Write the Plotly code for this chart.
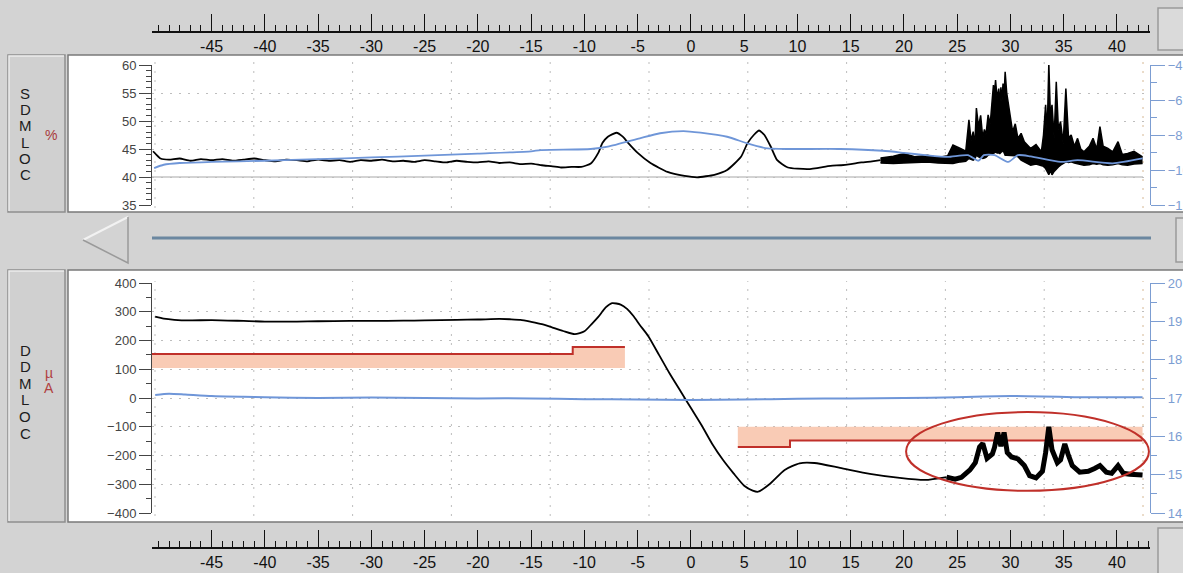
import plotly.graph_objects as go

W, H = 1183, 573

# ---------------- data ----------------
x_range = [-50.6, 43.1]
ruler_ticks = list(range(-45, 41, 5))

# SDMLOC (%), black trace
sd_x = [-50.5, -50.2, -49.8, -49, -48, -47, -46, -45, -44, -43, -42, -41, -40, -39, -38, -37, -36, -35,
        -34, -33, -32, -31, -30, -29, -28, -27, -26, -25, -24, -23, -22, -21, -20, -19, -18, -17, -16,
        -15, -14, -13, -12.2, -11.2, -10.3, -9.4, -8.7, -8.3, -7.8, -7.0, -6.4, -5.9, -5.0, -3.8, -2.2,
        -0.6, 0.6, 2.2, 3.4, 4.7, 5.3, 5.9, 6.4, 6.9, 7.5, 8.1, 9.1, 11.0, 13.1, 14.1, 15, 16, 17, 17.8]
sd_pct = [44.6, 44.0, 43.3, 43.1, 43.3, 42.9, 43.2, 43.0, 43.2, 42.9, 43.1, 43.3, 43.0, 42.8, 43.1, 43.0,
          42.8, 43.1, 42.9, 43.0, 42.7, 43.0, 42.9, 43.1, 42.8, 42.9, 42.7, 43.0, 42.8, 42.6, 42.9, 42.7,
          42.6, 42.8, 42.5, 42.6, 42.3, 42.4, 42.1, 41.9, 41.7, 41.8, 41.8, 42.4, 44.3, 46.1, 47.2, 47.9,
          47.2, 46.1, 44.3, 42.5, 40.9, 40.2, 39.95, 40.4, 41.25, 43.6, 46.0, 47.5, 48.3, 47.5, 45.4, 43.0,
          41.7, 41.4, 42.0, 42.1, 42.3, 42.6, 42.8, 43.0]
# SDMLOC noisy section: upper / lower envelope
sdn_x = [17.8, 19.0, 20.0, 21.0, 22.2, 23.2, 24.1, 24.6, 25.3, 25.8, 26.1, 26.3, 26.5, 26.65, 26.8, 27.0,
         27.2, 27.4, 27.55, 27.7, 27.9, 28.1, 28.25, 28.4, 28.5, 28.6, 28.75, 28.9, 29.0, 29.1, 29.2, 29.3,
         29.4, 29.5, 29.65, 29.8, 30.0, 30.2, 30.45, 30.7, 31.0, 31.3, 31.9, 32.4, 32.9, 33.1, 33.3, 33.45,
         33.6, 33.75, 33.9, 34.1, 34.3, 34.5, 34.7, 34.95, 35.2, 35.45, 35.7, 36.0, 36.3, 36.6, 36.9, 37.4,
         37.75, 38.1, 38.4, 38.7, 39.15, 39.6, 40.1, 40.5, 41.0, 41.6, 42.4]
sdn_hi = [43.4, 43.7, 44.2, 43.6, 43.9, 43.5, 43.8, 45.7, 45.1, 44.6, 50.2, 46.5, 48.1, 45.5, 52.3, 49.0,
          51.0, 46.9, 48.5, 47.5, 51.1, 49.5, 53.0, 56.4, 55.0, 57.3, 54.0, 55.8, 53.0, 56.0, 53.5, 56.7,
          54.5, 58.8, 55.0, 52.9, 50.0, 48.1, 49.5, 46.9, 47.8, 46.3, 45.1, 45.8, 44.5, 47.5, 52.9, 48.0,
          60.3, 51.0, 52.9, 47.0, 57.0, 48.5, 49.9, 46.0, 55.8, 47.0, 47.5, 45.5, 46.9, 45.0, 44.5, 45.5,
          46.9, 45.0, 49.0, 45.5, 45.1, 44.5, 46.3, 44.0, 44.2, 44.6, 43.6]
sdn_lo = [42.5, 42.4, 42.5, 42.6, 42.7, 42.5, 42.4, 42.4, 42.7, 42.8, 43.3, 43.1, 43.0, 43.2, 43.9, 43.6,
          43.5, 43.3, 43.4, 43.5, 43.9, 44.0, 44.1, 44.2, 44.3, 44.5, 44.3, 44.3, 44.2, 44.4, 44.5, 44.8,
          44.2, 43.9, 43.9, 43.9, 43.9, 43.9, 43.8, 43.6, 43.0, 42.7, 42.1, 42.3, 42.1, 41.9, 41.5, 40.8,
          40.4, 41.2, 40.4, 41.0, 41.5, 41.8, 42.1, 42.4, 42.7, 42.6, 42.7, 42.5, 42.4, 42.2, 42.1, 42.2,
          42.4, 42.3, 42.4, 42.2, 42.1, 42.2, 42.4, 42.2, 42.1, 42.3, 42.4]
# SDMLOC blue trace (right axis)
sdb_x = [-50.4, -49.5, -48, -45, -40, -35, -30, -25, -20, -15, -14.1, -9.4, -7.8, -4.8, -2.9, -0.7, 0.9,
         3.4, 5.3, 7.2, 9.4, 14, 18, 20, 22, 24.1, 26.0, 27.0, 27.5, 28.5, 29.8, 30.7, 31.9, 34.7, 36.3,
         39.6, 42.4]
sdb_val = [-9.89, -9.70, -9.60, -9.54, -9.47, -9.38, -9.28, -9.18, -9.06, -8.93, -8.86, -8.80, -8.67,
           -8.19, -7.90, -7.78, -7.87, -8.10, -8.48, -8.77, -8.80, -8.80, -8.90, -9.02, -9.15, -9.25,
           -9.15, -9.47, -9.15, -9.15, -9.54, -9.15, -9.22, -9.54, -9.44, -9.62, -9.34]

# DDMLOC (uA), black trace
dd_x = [-50.3, -49.5, -48.5, -47, -45, -42, -40, -37, -35, -32, -30, -27, -25, -22, -20, -18, -17, -16,
        -15, -14, -13, -12, -10.9, -10.0, -9.3, -8.7, -8.0, -7.4, -6.6, -6.0, -5.4, -4.8, -4.0, -3.0,
        -2.0, -1.0, 0.0, 1.0, 2.0, 3.0, 4.0, 5.0, 5.8, 6.3, 7.4, 8.8, 10.2, 11.6, 14.0, 16.8, 19.6,
        22.0, 24.0]
dd_ua = [283, 276, 272, 270, 271, 268, 266, 266, 267, 268, 268, 269, 270, 272, 273, 275, 274, 272, 265,
         257, 245, 233, 222, 232, 258, 282, 315, 330, 325, 310, 285, 254, 215, 150, 85, 25, -35, -95,
         -160, -215, -262, -305, -322, -326, -299, -250, -227, -226, -243, -264, -278, -285, -275]
# DDMLOC noisy section
ddn_x = [24.0, 24.8, 25.4, 26.2, 26.7, 27.1, 27.4, 27.8, 28.3, 28.5, 28.8, 29.1, 29.4, 29.7, 30.1, 30.7,
         31.3, 31.8, 32.4, 33.0, 33.3, 33.6, 33.9, 34.4, 34.7, 35.1, 35.4, 35.8, 36.5, 37.3, 37.9, 38.4,
         39.0, 39.5, 40.1, 40.6, 41.2, 42.4]
ddn_ua = [-275, -282, -276, -250, -225, -170, -158, -210, -195, -172, -120, -168, -120, -190, -205, -212,
          -235, -270, -278, -255, -190, -100, -180, -225, -215, -160, -195, -235, -258, -255, -245, -235,
          -258, -262, -235, -262, -265, -268]
# DDMLOC blue trace (right axis)
ddb_x = [-50.3, -49, -47.5, -45, -42, -40, -35, -30, -25, -20, -15, -10, -5, 0, 5, 10, 15, 20, 25, 30,
         33, 36, 40, 42.4]
ddb_val = [17.08, 17.11, 17.09, 17.05, 17.03, 17.02, 17.0, 17.01, 17.0, 16.99, 16.99, 16.97, 16.96, 16.95,
           16.96, 16.98, 16.99, 17.0, 17.02, 17.05, 17.04, 17.02, 17.02, 17.02]

# limit bands (red step + salmon band)
band1_x = [-50.6, -11.1, -6.2]
band1_red = [153, 177, 177]
band1_edge = 104
band2_x = [4.4, 9.3, 42.4]
band2_red = [-170, -148, -148]
band2_edge = -100
# highlight ellipse (data coords)
ell_x = [20.2, 43.0]
ell_y = [-323, -49]

top_left_ticks = [35, 40, 45, 50, 55, 60]
top_right_ticks = [-12, -10, -8, -6, -4]
bot_left_ticks = list(range(-400, 401, 100))
bot_right_ticks = [14, 15, 16, 17, 18, 19, 20]

# ---------------- helpers ----------------
def PX(x):
    return x / W

def PY(y):
    return 1 - y / H

BLUE = '#6f96d8'
BLUE_AX = '#7c9dd2'
RED = '#c0302a'
SALMON = '#f9cbb5'
FONT = 'Liberation Sans, Arial, sans-serif'
xdom = [PX(152), PX(1150)]

fig = go.Figure()

# bands
fig.add_trace(go.Scatter(x=[band1_x[0], band1_x[-1]], y=[band1_edge, band1_edge], xaxis='x2', yaxis='y3',
                         mode='lines', line=dict(width=0), hoverinfo='skip'))
fig.add_trace(go.Scatter(x=band1_x, y=band1_red, xaxis='x2', yaxis='y3', mode='lines',
                         line=dict(color=RED, width=2, shape='hv'), fill='tonexty', fillcolor=SALMON))
fig.add_trace(go.Scatter(x=[band2_x[0], band2_x[-1]], y=[band2_edge, band2_edge], xaxis='x2', yaxis='y3',
                         mode='lines', line=dict(width=0), hoverinfo='skip'))
fig.add_trace(go.Scatter(x=band2_x, y=band2_red, xaxis='x2', yaxis='y3', mode='lines',
                         line=dict(color=RED, width=2, shape='hv'), fill='tonexty', fillcolor=SALMON))

# blue traces
fig.add_trace(go.Scatter(x=sdb_x, y=sdb_val, xaxis='x', yaxis='y2', mode='lines',
                         line=dict(color=BLUE, width=1.8, shape='spline', smoothing=0.6)))
fig.add_trace(go.Scatter(x=ddb_x, y=ddb_val, xaxis='x2', yaxis='y4', mode='lines',
                         line=dict(color=BLUE, width=2, shape='spline', smoothing=0.6)))

# black traces, top
fig.add_trace(go.Scatter(x=sd_x, y=sd_pct, xaxis='x', yaxis='y', mode='lines',
                         line=dict(color='black', width=1.8, shape='spline', smoothing=0.5)))
fig.add_trace(go.Scatter(x=sdn_x, y=sdn_lo, xaxis='x', yaxis='y', mode='lines',
                         line=dict(color='black', width=1.5)))
fig.add_trace(go.Scatter(x=sdn_x, y=sdn_hi, xaxis='x', yaxis='y', mode='lines',
                         line=dict(color='black', width=1.5), fill='tonexty', fillcolor='black'))

# black traces, bottom
fig.add_trace(go.Scatter(x=dd_x, y=dd_ua, xaxis='x2', yaxis='y3', mode='lines',
                         line=dict(color='black', width=1.8, shape='spline', smoothing=0.6)))
fig.add_trace(go.Scatter(x=ddn_x, y=ddn_ua, xaxis='x2', yaxis='y3', mode='lines',
                         line=dict(color='black', width=5)))

# dummy traces so the ruler axes are built
fig.add_trace(go.Scatter(x=[None], y=[None], xaxis='x3', yaxis='y', mode='lines', hoverinfo='skip'))
fig.add_trace(go.Scatter(x=[None], y=[None], xaxis='x4', yaxis='y3', mode='lines', hoverinfo='skip'))

# ---------------- shapes ----------------
shapes = []
for y0, y1 in [(55, 212), (270, 522)]:
    shapes.append(dict(type='rect', xref='paper', yref='paper', x0=PX(68), x1=PX(1184), y0=PY(y1), y1=PY(y0),
                       fillcolor='white', line=dict(color='#7a7a7a', width=1.5), layer='below'))
    shapes.append(dict(type='rect', xref='paper', yref='paper', x0=PX(8), x1=PX(65), y0=PY(y1), y1=PY(y0),
                       fillcolor='#d0d0d0', line=dict(color='#8e8e8e', width=1.5), layer='below'))
    shapes.append(dict(type='path', xref='paper', yref='paper', layer='below',
                       path=f'M {PX(9)},{PY(y1-1)} L {PX(9)},{PY(y0+1)} L {PX(64)},{PY(y0+1)}',
                       line=dict(color='#ececec', width=1.5)))
for x0, x1, y0, y1 in [(1158, 1184, 8, 50), (1158, 1184, 528, 574), (1176, 1184, 218, 262)]:
    shapes.append(dict(type='rect', xref='paper', yref='paper', x0=PX(x0), x1=PX(x1), y0=PY(y1), y1=PY(y0),
                       fillcolor='#dadada', line=dict(color='#9a9a9a', width=1.5), layer='below'))
shapes.append(dict(type='path', xref='paper', yref='paper', layer='below',
                   path=f'M {PX(128)},{PY(217)} L {PX(83)},{PY(240)}',
                   line=dict(color='#f2f2f2', width=2)))
shapes.append(dict(type='path', xref='paper', yref='paper', layer='below',
                   path=f'M {PX(83)},{PY(240)} L {PX(128)},{PY(263)} L {PX(128)},{PY(217)}',
                   line=dict(color='#9a9a9a', width=1.5)))
shapes.append(dict(type='line', xref='paper', yref='paper', layer='below',
                   x0=PX(152), x1=PX(1151), y0=PY(238), y1=PY(238), line=dict(color='#6b87a0', width=3)))
for k in range(11):
    xp = 155 + 98.8 * k
    col = '#d6b894' if k == 10 else '#bdbdbd'
    for y0, y1 in [(62, 208), (281, 516)]:
        shapes.append(dict(type='line', xref='paper', yref='paper', layer='below',
                           x0=PX(xp), x1=PX(xp), y0=PY(y1), y1=PY(y0),
                           line=dict(color=col, width=1, dash='2px,7px')))
shapes.append(dict(type='line', xref='paper', yref='y', layer='below', x0=PX(152), x1=PX(1143), y0=40, y1=40,
                   line=dict(color='#a8a8a8', width=1.2)))
shapes.append(dict(type='circle', xref='x2', yref='y3', x0=ell_x[0], x1=ell_x[1], y0=ell_y[0], y1=ell_y[1],
                   line=dict(color=RED, width=2), layer='above'))

# ---------------- annotations ----------------
ann = []
for i, ch in enumerate('SDMLOC'):
    ann.append(dict(x=PX(25), y=PY(93 + 16.4 * i), xref='paper', yref='paper', text=ch, showarrow=False,
                    xanchor='center', yanchor='middle', font=dict(size=15, color='#1c1c1c', family=FONT)))
for i, ch in enumerate('DDMLOC'):
    ann.append(dict(x=PX(25), y=PY(350 + 16.6 * i), xref='paper', yref='paper', text=ch, showarrow=False,
                    xanchor='center', yanchor='middle', font=dict(size=15, color='#1c1c1c', family=FONT)))
ann.append(dict(x=PX(51), y=PY(135), xref='paper', yref='paper', text='%', showarrow=False,
                xanchor='center', yanchor='middle', font=dict(size=14, color='#a83a3a', family=FONT)))
ann.append(dict(x=PX(49), y=PY(373), xref='paper', yref='paper', text='µ', showarrow=False,
                xanchor='center', yanchor='middle', font=dict(size=14, color='#b04040', family=FONT)))
ann.append(dict(x=PX(49), y=PY(388), xref='paper', yref='paper', text='A', showarrow=False,
                xanchor='center', yanchor='middle', font=dict(size=14, color='#b04040', family=FONT)))

# ---------------- axes ----------------
def ruler(pos, overl):
    return dict(overlaying=overl, anchor='free', position=pos, range=x_range, side='bottom', automargin=False,
                tickmode='array', tickvals=ruler_ticks, ticktext=[str(v) for v in ruler_ticks],
                ticks='inside', ticklen=17, tickwidth=1.2, tickcolor='#111',
                showline=True, linecolor='#111', linewidth=1.5,
                minor=dict(ticks='inside', dtick=1, tick0=0, ticklen=6, tickcolor='#111', tickwidth=1.2),
                tickfont=dict(size=16, color='#111', family=FONT), showgrid=False, zeroline=False)

def yleft(dom, rng, vals, minor_dt, anchor):
    return dict(domain=dom, range=rng, anchor=anchor, side='left', tickmode='array', tickvals=vals,
                automargin=False,
                ticks='outside', ticklen=12, tickcolor='#444', tickwidth=1,
                showline=True, linecolor='#444', linewidth=1,
                minor=dict(ticks='outside', dtick=minor_dt, ticklen=5, tickcolor='#444', showgrid=False),
                showgrid=True, gridcolor='#bdbdbd', griddash='2px,7px', gridwidth=1, zeroline=False,
                tickfont=dict(size=13, color='#444', family=FONT))

def yright(overl, rng, vals, minor_dt, anchor):
    return dict(overlaying=overl, range=rng, anchor=anchor, side='right', tickmode='array', tickvals=vals,
                automargin=False,
                ticks='outside', ticklen=14, tickcolor=BLUE_AX, tickwidth=1,
                showline=True, linecolor=BLUE_AX, linewidth=1.2,
                minor=dict(ticks='outside', dtick=minor_dt, ticklen=6, tickcolor=BLUE_AX, showgrid=False),
                showgrid=False, zeroline=False, tickfont=dict(size=13, color=BLUE_AX, family=FONT))

fig.update_layout(
    width=W, height=H, autosize=False,
    margin=dict(l=0, r=0, t=0, b=0, pad=0, autoexpand=False),
    paper_bgcolor='#d3d3d3', plot_bgcolor='rgba(0,0,0,0)', showlegend=False,
    font=dict(family=FONT),
    xaxis=dict(domain=xdom, range=x_range, anchor='y', visible=False, automargin=False),
    xaxis2=dict(domain=xdom, range=x_range, anchor='y3', visible=False, automargin=False),
    xaxis3=ruler(PY(32), 'x'),
    xaxis4=ruler(PY(548), 'x2'),
    yaxis=yleft([PY(205), PY(65)], [35, 60], top_left_ticks, 1, 'x'),
    yaxis2=yright('y', [-12, -4], top_right_ticks, 1, 'x'),
    yaxis3=yleft([PY(513), PY(283)], [-400, 400], bot_left_ticks, 50, 'x2'),
    yaxis4=yright('y3', [14, 20], bot_right_ticks, 0.5, 'x2'),
    shapes=shapes, annotations=ann,
)

fig.write_html("out.html", config={'displayModeBar': False},
               post_script="document.body.style.margin='0';document.body.style.overflow='hidden';")
